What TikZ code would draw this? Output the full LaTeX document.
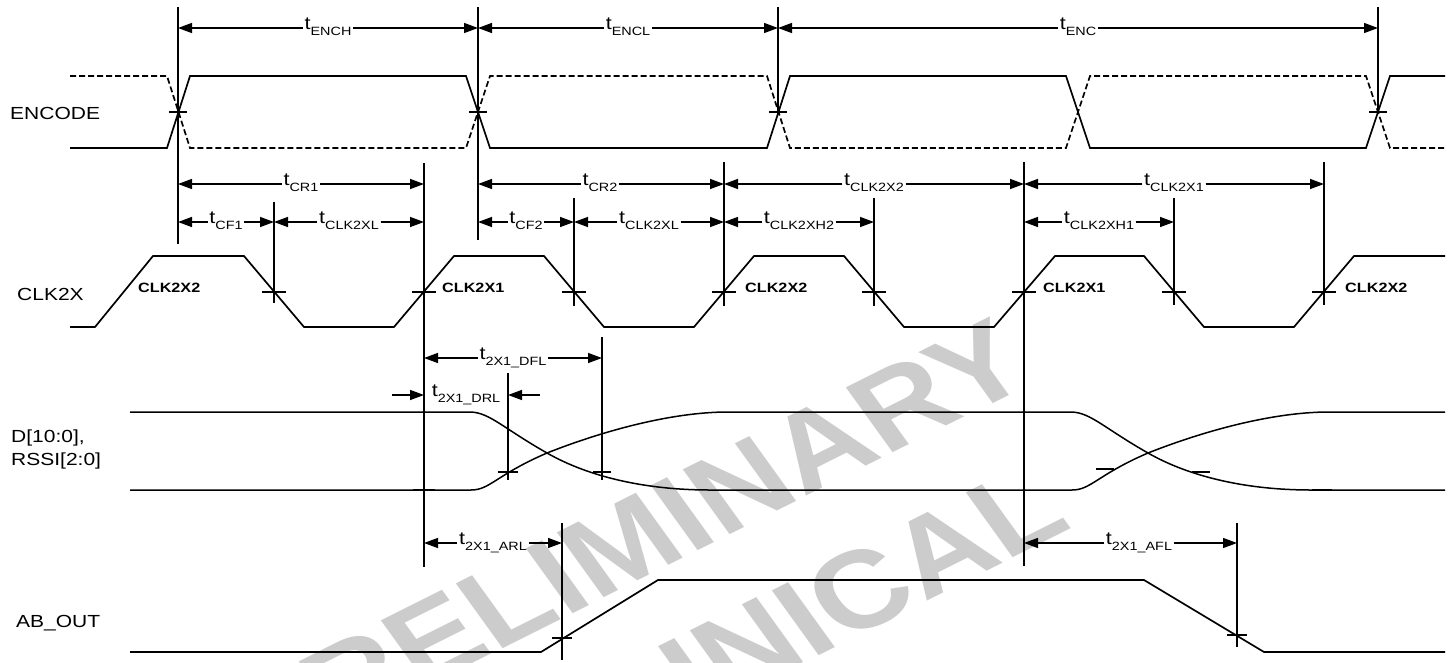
\documentclass[tikz,border=0pt]{standalone}
\usepackage{fontspec}
\setmainfont{Liberation Sans}[FakeStretch=1.2]
\newfontfamily\wmfont{Liberation Sans}
\usetikzlibrary{arrows.meta}
\newcommand{\tsub}[1]{{\fontsize{18}{18}\selectfont t}\raisebox{-6pt}{\fontsize{12}{12}\selectfont #1}}
\newcommand{\dimar}[6]{%
  \coordinate (#1-a) at (#2,#4);
  \coordinate (#1-b) at (#3,#4);
  \node[tlabel] (#1) at (#5,#4+1) {\tsub{#6}};
  \draw[dim] (#1.west |- #1-a) -- (#1-a);
  \draw[dim] (#1.east |- #1-b) -- (#1-b);
}
\tikzset{
  sig/.style={line width=1.7pt},
  dsig/.style={line width=1.7pt, dash pattern=on 6pt off 3pt},
  crv/.style={line width=1.5pt},
  vline/.style={line width=2.2pt},
  tick/.style={line width=1.7pt},
  dim/.style={line width=1.4pt, -{Triangle[length=14pt,width=10pt]}},
  tlabel/.style={anchor=base, inner sep=1.5pt},
  siglabel/.style={anchor=base west, inner sep=0pt, font=\fontsize{17.5}{20}\selectfont},
  edgelabel/.style={anchor=base west, inner sep=0pt, font=\bfseries\fontsize{13.5}{14}\selectfont},
  wm/.style={text=black!20, font=\wmfont\bfseries\fontsize{110}{120}\selectfont, transform shape, rotate=31, inner sep=0pt}
}
\begin{document}
\begin{tikzpicture}[x=1pt,y=-1pt]
\useasboundingbox (0,0) rectangle (1452,662);
\fill[white] (0,0) rectangle (1452,662);
% watermark
\begin{scope}[xscale=1.2]
  \node[wm] (wm1) at (523,542) {PRELIMINARY};
  \node[wm] (wm2) at (604,658) {TECHNICAL};
\end{scope}
% signal names
\node[siglabel] (lenc) at (10,119) {ENCODE};
\node[siglabel] (lclk) at (17,300) {CLK2X};
\node[siglabel] (ld1) at (11,442) {D[10:0],};
\node[siglabel] (ld2) at (11,465) {RSSI[2:0]};
\node[siglabel] (lab) at (16,627) {AB\_OUT};
% ENCODE
\draw[sig] (70,148) -- (167,148) -- (190,76) -- (466,76) -- (490,148) -- (767,148) -- (790,76) -- (1066,76) -- (1090,148) -- (1366,148) -- (1390,76) -- (1445,76);
\draw[dsig] (70,76) -- (167,76) -- (190,148) -- (466,148) -- (490,76) -- (767,76) -- (790,148) -- (1066,148) -- (1090,76) -- (1366,76) -- (1390,148) -- (1445,148);
% CLK2X
\draw[sig] (70,327) -- (95,327) -- (153,256) -- (244,256) -- (304,327) -- (394,327) -- (454,256) -- (544,256) -- (604,327) -- (694,327) -- (754,256) -- (844,256) -- (904,327) -- (994,327) -- (1055,256) -- (1144,256) -- (1204,327) -- (1294,327) -- (1354,256) -- (1445,256);
\node[edgelabel] (e1) at (138,292) {CLK2X2};
\node[edgelabel] (e2) at (442,292) {CLK2X1};
\node[edgelabel] (e3) at (745,292) {CLK2X2};
\node[edgelabel] (e4) at (1043,292) {CLK2X1};
\node[edgelabel] (e5) at (1345,292) {CLK2X2};
% D / RSSI
\draw[crv] (130,412) -- (471,412) .. controls (490,413) and (503,428) .. (547,453) .. controls (589,477) and (646,490) .. (710,490) -- (1072,490) .. controls (1091,490) and (1097,475) .. (1148,453) .. controls (1201,432) and (1271,412) .. (1329,412) -- (1445,412);
\draw[crv] (130,490) -- (471,490) .. controls (490,490) and (496,475) .. (547,453) .. controls (600,432) and (670,412) .. (728,412) -- (1072,412) .. controls (1091,413) and (1104,428) .. (1148,453) .. controls (1190,477) and (1247,490) .. (1311,490) -- (1445,490);
% AB_OUT
\draw[sig] (130,652) -- (541,652) -- (658,580) -- (1144,580) -- (1264,652) -- (1445,652);
% vertical reference lines
\foreach \x/\a/\b in {178/7/244, 478/7/240, 778/7/112, 1378/7/112, 274/202/303, 424/163/567, 574/198/306, 724/162/306, 874/198/306, 1024/162/566, 1174/198/305, 1324/162/305, 508/373/480, 602/337/480, 562/523/660, 1237/523/647}
  \draw[vline] (\x,\a) -- (\x,\b);
% ticks
\foreach \x in {178,478,778,1378} \draw[tick] (\x-9,112) -- (\x+9,112);
\foreach \x in {274,424,574,724,874,1024,1174,1324} \draw[tick] (\x-12,292) -- (\x+12,292);
\draw[tick] (413,490) -- (435,490);
\draw[tick] (498,472) -- (518,472);
\draw[tick] (593,472) -- (611,472);
\draw[tick] (1096,469) -- (1114,469);
\draw[tick] (1192,472) -- (1210,472);
\draw[tick] (1312,490) -- (1332,490);
\draw[tick] (552,638) -- (572,638);
\draw[tick] (1227,635) -- (1247,635);
% dimensions
\dimar{ench}{178}{478}{28}{328}{ENCH}
\dimar{encl}{478}{778}{28}{628}{ENCL}
\dimar{enc}{778}{1378}{28}{1078}{ENC}
\dimar{cr1}{178}{424}{184}{301}{CR1}
\dimar{cr2}{478}{724}{184}{600}{CR2}
\dimar{ck2}{724}{1024}{184}{874}{CLK2X2}
\dimar{ck1}{1024}{1324}{184}{1174}{CLK2X1}
\dimar{cf1}{178}{274}{222}{226}{CF1}
\dimar{ckl1}{274}{424}{222}{349}{CLK2XL}
\dimar{cf2}{478}{574}{222}{526}{CF2}
\dimar{ckl2}{574}{724}{222}{649}{CLK2XL}
\dimar{ckh2}{724}{874}{222}{799}{CLK2XH2}
\dimar{ckh1}{1024}{1174}{222}{1099}{CLK2XH1}
\dimar{dfl}{424}{602}{358}{513}{2X1\_DFL}
\dimar{arl}{424}{562}{543}{493}{2X1\_ARL}
\dimar{afl}{1024}{1237}{543}{1139}{2X1\_AFL}
% t2X1_DRL with outside arrows
\coordinate (drl-a) at (424,395);
\coordinate (drl-b) at (508,395);
\coordinate (drl-l) at (392,395);
\coordinate (drl-r) at (540,395);
\node[tlabel] (drl) at (466,396) {\tsub{2X1\_DRL}};
\draw[dim] (drl-l) -- (drl-a);
\draw[dim] (drl-r) -- (drl-b);
\end{tikzpicture}
\end{document}
